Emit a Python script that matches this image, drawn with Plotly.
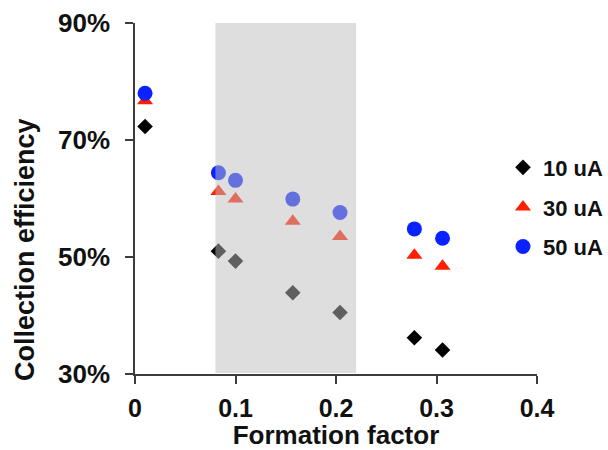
import plotly.graph_objects as go

# Formation factor (x) and collection efficiency (fraction) for each current
formation_factor = [0.010, 0.083, 0.100, 0.157, 0.204, 0.278, 0.306]
eff_10uA = [0.723, 0.510, 0.493, 0.439, 0.405, 0.362, 0.341]
eff_30uA = [0.767, 0.612, 0.599, 0.561, 0.535, 0.503, 0.484]
eff_50uA = [0.780, 0.644, 0.631, 0.599, 0.576, 0.548, 0.532]

series_names = ["10 uA", "30 uA", "50 uA"]
x_ticks = [0, 0.1, 0.2, 0.3, 0.4]
x_tick_text = ["0", "0.1", "0.2", "0.3", "0.4"]
y_ticks = [0.3, 0.5, 0.7, 0.9]
y_tick_text = ["30%", "50%", "70%", "90%"]
band = (0.08, 0.22)

FONT = "Liberation Sans, Arial, Helvetica, sans-serif"
AXIS_COLOR = "#3c3c3c"
TEXT_COLOR = "#111111"

fig = go.Figure()
styles = [
    ("diamond", 12, "#000000"),
    ("triangle-up", 14, "#ff1e00"),
    ("circle", 15, "#0a22ff"),
]
for name, vals, (sym, size, col) in zip(series_names, [eff_10uA, eff_30uA, eff_50uA], styles):
    fig.add_trace(go.Scatter(
        x=formation_factor, y=vals, mode="markers", name=f"<b>{name}</b>",
        legendgroup=name,
        marker=dict(symbol=sym, size=size, color=col, line=dict(width=0)),
    ))

# translucent band drawn over the markers
fig.add_shape(
    type="rect", xref="x", yref="y",
    x0=band[0], x1=band[1], y0=0.3015, y1=0.9,
    fillcolor="rgb(190,190,190)", opacity=0.5, line=dict(width=0),
    layer="above",
)

axis_common = dict(
    showline=True, linecolor=AXIS_COLOR, linewidth=1.5,
    ticks="outside", ticklen=8, tickwidth=1.5, tickcolor=AXIS_COLOR,
    showgrid=False, zeroline=False, automargin=False,
)

fig.update_xaxes(
    range=[0, 0.4], tickvals=x_ticks,
    ticktext=[f"<b>{t}</b>" for t in x_tick_text],
    tickfont=dict(family=FONT, size=25, color=TEXT_COLOR),
    ticklabelstandoff=3,
    title=dict(text="<b>Formation factor</b>", standoff=12,
               font=dict(family=FONT, size=26, color=TEXT_COLOR)),
    **axis_common,
)
fig.update_yaxes(
    range=[0.3, 0.9], tickvals=y_ticks,
    ticktext=[f"<b>{t}</b>" for t in y_tick_text],
    tickfont=dict(family=FONT, size=26, color=TEXT_COLOR),
    ticklabelstandoff=10,
    **axis_common,
)

# y-axis title sits low along the axis, so place it as a rotated annotation
fig.add_annotation(
    text="<b>Collection efficiency</b>", textangle=-90,
    xref="paper", yref="paper", x=-0.2736, y=0.353,
    xanchor="center", yanchor="middle", showarrow=False,
    font=dict(family=FONT, size=27, color=TEXT_COLOR),
)

fig.update_layout(
    width=608, height=450,
    margin=dict(l=135, r=71, t=23, b=76, autoexpand=False),
    paper_bgcolor="white", plot_bgcolor="white",
    showlegend=True,
    legend=dict(
        x=0.9154, y=0.648, xanchor="left", yanchor="top",
        font=dict(family=FONT, size=22, color=TEXT_COLOR),
        tracegroupgap=8, bgcolor="rgba(0,0,0,0)", itemwidth=30,
        traceorder="grouped",
    ),
)

fig.write_html("out.html")
